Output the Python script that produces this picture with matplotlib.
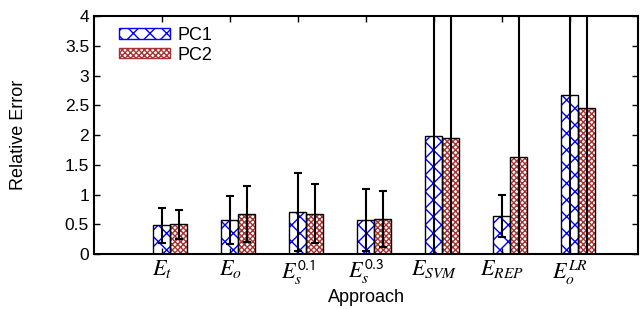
import matplotlib
matplotlib.use("Agg")
import matplotlib.pyplot as plt
from matplotlib.patches import Patch
import numpy as np

approaches = [r"$E_t$", r"$E_o$", r"$E_s^{\mathsf{0.1}}$", r"$E_s^{\mathsf{0.3}}$",
              r"$E_{SVM}$", r"$E_{REP}$", r"$E_o^{LR}$"]
pc1 = [0.48, 0.57, 0.71, 0.57, 1.98, 0.64, 2.68]
pc1_err = [0.29, 0.40, 0.66, 0.52, 3.0, 0.35, 3.0]
pc2 = [0.50, 0.67, 0.68, 0.59, 1.95, 1.63, 2.46]
pc2_err = [0.24, 0.47, 0.50, 0.47, 3.0, 3.0, 3.0]

plt.rcParams["font.family"] = ["Liberation Sans", "DejaVu Sans"]
plt.rcParams["mathtext.fontset"] = "stix"
plt.rcParams["hatch.linewidth"] = 1.0

fig = plt.figure(figsize=(6.41, 3.09), dpi=100)
ax = fig.add_axes([0.1466, 0.178, 0.9953 - 0.1466, 0.948 - 0.178])

x = np.arange(len(approaches))
w = 0.25
blue = "#0000ff"
red = "#a83232"

# pattern layer then black outline layer
ax.bar(x, pc1, w, color="white", edgecolor=blue, hatch="xx", linewidth=0)
ax.bar(x + w, pc2, w, color="white", edgecolor=red, hatch="xxxxxx", linewidth=0)
ax.bar(x, pc1, w, fill=False, edgecolor="black", linewidth=1.0)
ax.bar(x + w, pc2, w, fill=False, edgecolor="black", linewidth=1.0)
ax.errorbar(x, pc1, yerr=pc1_err, fmt="none", ecolor="black", elinewidth=1.5,
            capsize=3, capthick=1.5)
ax.errorbar(x + w, pc2, yerr=pc2_err, fmt="none", ecolor="black", elinewidth=1.5,
            capsize=3, capthick=1.5)

h1 = Patch(facecolor="white", edgecolor=blue, hatch="xx")
h2 = Patch(facecolor="white", edgecolor=red, hatch="xxxxxx")
leg = ax.legend([h1, h2], ["PC1", "PC2"], loc="upper left", frameon=False,
                fontsize=13, handlelength=2.8, handleheight=0.5,
                borderaxespad=0.0, labelspacing=0.15, handletextpad=0.45,
                bbox_to_anchor=(0.033, 0.985))
for p in leg.get_patches():
    p.set_linewidth(1.0)

ax.set_xlim(-1, 7)
ax.set_ylim(0, 4)
ax.set_yticks([0, 0.5, 1, 1.5, 2, 2.5, 3, 3.5, 4])
ax.set_yticklabels(["0", "0.5", "1", "1.5", "2", "2.5", "3", "3.5", "4"])
ax.set_xticks(x)
ax.set_xticklabels(approaches)
ax.tick_params(direction="in", top=True, right=True, length=4, width=1,
               labelsize=12.5)
ax.tick_params(axis="x", pad=3, labelsize=16)
for s in ax.spines.values():
    s.set_linewidth(1.5)

ax.set_ylabel("Relative Error", fontsize=13, labelpad=27)
ax.set_xlabel("Approach", fontsize=13, labelpad=2)

fig.savefig("out.png", dpi=100)
